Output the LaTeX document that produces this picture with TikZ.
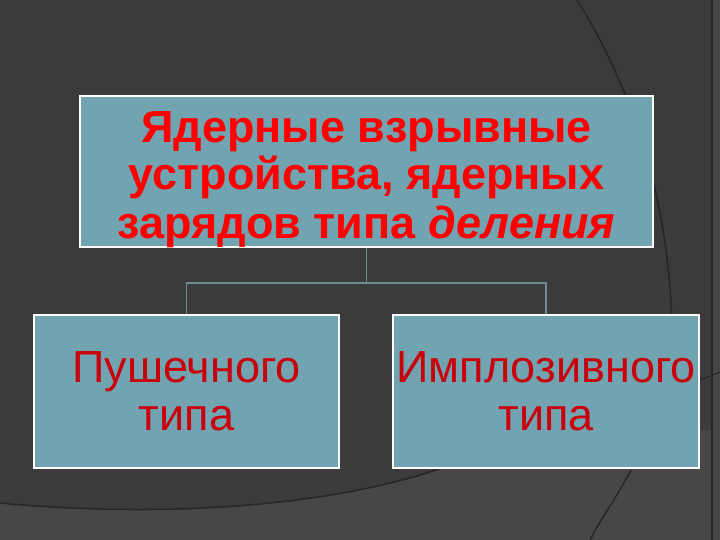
\documentclass[tikz,border=0pt]{standalone}
\usepackage{fontspec}
\setmainfont{Liberation Sans}
\definecolor{slidebg}{HTML}{3B3B3B}
\definecolor{slidelight}{HTML}{474747}
\definecolor{slidearc}{HTML}{262626}
\definecolor{boxfill}{HTML}{72A3B0}
\definecolor{linkgray}{HTML}{6E8A90}
\definecolor{headred}{HTML}{FF0000}
\definecolor{subred}{HTML}{C8000C}
\tikzset{
  box/.style={draw=white, line width=2pt, fill=boxfill, inner sep=0pt, align=center},
  link/.style={draw=linkgray, line width=1.5pt},
}
\begin{document}
\begin{tikzpicture}[x=1pt, y=-1pt]
% background
\fill[slidebg] (0,0) rectangle (720,540);
\useasboundingbox (0,0) rectangle (720,540);
\fill[slidelight] (0,503) .. controls (200,522) and (420,500) .. (520,430)
  -- (720,430) -- (720,540) -- (0,540) -- cycle;
\fill[slidelight] (712,0) rectangle (720,540);
\draw[slidearc, line width=1.5pt] (0,503) .. controls (200,522) and (420,500) .. (520,430);
\draw[slidearc, line width=1.5pt] (577,0) .. controls (640,100) and (672,220) .. (672,340);
\draw[slidearc, line width=1.5pt] (631,470) .. controls (615,500) and (600,520) .. (590,540);
\draw[slidearc, line width=1.2pt] (712,0) -- (712,540);
\draw[slidearc, line width=1.2pt] (700,380) -- (720,372);
% boxes
\node[box, minimum width=573, minimum height=151, text height=142, text depth=9,
  font=\bfseries\fontsize{45}{48}\selectfont, text=headred] (P_0_0) at (366.5,171.5)
  {Ядерные взрывные\\устройства, ядерных\\зарядов типа \textit{деления}};
\node[box, minimum width=305, minimum height=153, font=\fontsize{45}{48}\selectfont,
  text=subred] (P_1_0) at (186.5,391.5) {Пушечного\\типа};
\node[box, minimum width=306, minimum height=153, font=\fontsize{45}{48}\selectfont,
  text=subred] (P_1_1) at (546,391.5) {Имплозивного\\типа};
% connectors
\coordinate (P_split) at (366.5,283);
\draw[link] (P_0_0.south) -- (P_split);
\draw[link] (P_split) -| (P_1_0.north);
\draw[link] (P_split) -| (P_1_1.north);
\end{tikzpicture}
\end{document}
